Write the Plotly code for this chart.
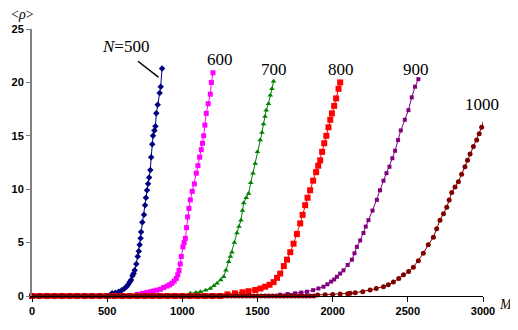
import plotly.graph_objects as go

# N = 500
m500 = [0, 50, 100, 150, 200, 250, 300, 350, 400, 450, 500,
        520, 533, 555, 577, 597, 615, 630, 641, 650, 659, 668, 676, 683, 694, 703, 710,
        716, 722, 726, 734, 745, 752, 758, 765, 772, 779, 787, 793, 800, 805, 814, 821,
        827, 836, 849, 856, 865]
r500 = [0, 0, 0, 0, 0, 0, 0, 0, 0, 0, 0,
        0.1, 0.25, 0.3, 0.4, 0.55, 0.7, 0.9, 1.1, 1.3, 1.5, 1.9, 2.1, 2.4, 3.0, 3.7, 4.2,
        4.8, 5.4, 6.0, 6.9, 7.6, 8.5, 9.2, 9.9, 10.5, 11.1, 11.8, 13.0, 14.2, 15.0, 15.5, 15.9,
        17.1, 17.9, 19.0, 19.6, 21.3]

# N = 600
m600 = [0, 50, 100, 150, 200, 250, 300, 350, 400, 450, 500, 550, 600, 650,
        700, 735, 765, 790, 810, 830, 854, 876, 898, 915, 931, 946, 960, 970, 978, 986,
        993, 1004, 1012, 1020, 1028, 1035, 1044, 1053, 1066, 1080, 1093, 1104, 1115, 1126,
        1134, 1142, 1150, 1159, 1172, 1186, 1193, 1204]
r600 = [0, 0, 0, 0, 0, 0, 0, 0, 0, 0, 0, 0, 0, 0,
        0.15, 0.25, 0.34, 0.4, 0.47, 0.55, 0.63, 0.8, 0.93, 1.05, 1.2, 1.4, 1.65, 2.0, 2.4, 3.0,
        3.7, 4.6, 5.0, 5.4, 6.4, 7.4, 8.2, 9.0, 9.8, 10.5, 11.5, 12.2, 13.0, 13.7,
        14.3, 15.0, 16.0, 17.1, 18.0, 18.9, 20.0, 20.9]

# N = 700
m700 = [0, 50, 100, 150, 200, 250, 300, 350, 400, 450, 500, 550, 600, 650, 700, 750, 800,
        850, 900, 950, 1000,
        1053, 1090, 1120, 1155, 1186, 1210, 1231, 1255, 1275, 1290, 1308, 1320, 1330, 1346,
        1363, 1377, 1390, 1400, 1408, 1425, 1441, 1455, 1470, 1485, 1500, 1518, 1530, 1540,
        1550, 1558, 1573, 1585, 1596, 1607]
r700 = [0, 0, 0, 0, 0, 0, 0, 0, 0, 0, 0, 0, 0, 0, 0, 0, 0,
        0, 0, 0, 0,
        0.25, 0.33, 0.4, 0.55, 0.7, 0.95, 1.2, 1.5, 1.8, 2.4, 3.2, 3.7, 4.1, 5.0,
        5.9, 6.5, 7.1, 8.0, 8.7, 9.2, 9.6, 10.6, 11.5, 12.4, 13.5, 14.6, 15.3, 16.1,
        16.8, 17.4, 18.0, 18.8, 19.4, 20.1]

# N = 800
m800 = [0, 50, 100, 150, 200, 250, 300, 350, 400, 450, 500, 550, 600, 650, 700, 750, 800,
        850, 900, 950, 1000, 1050, 1100, 1150, 1200, 1250,
        1300, 1350, 1400, 1440, 1485, 1520, 1551, 1580, 1607, 1630, 1651, 1675, 1696, 1718,
        1740, 1762, 1784, 1800, 1817, 1833, 1850, 1870, 1890, 1904, 1917, 1930, 1944, 1958,
        1972, 1984, 1995, 2010, 2023, 2039, 2050]
r800 = [0, 0, 0, 0, 0, 0, 0, 0, 0, 0, 0, 0, 0, 0, 0, 0, 0,
        0, 0, 0, 0, 0, 0, 0, 0, 0,
        0.15, 0.25, 0.35, 0.45, 0.56, 0.7, 0.87, 1.05, 1.3, 1.7, 2.1, 2.8, 3.4, 4.1,
        4.9, 5.8, 6.8, 7.6, 8.5, 9.2, 9.9, 10.8, 11.6, 12.2, 12.7, 13.5, 14.3, 15.0,
        15.8, 16.5, 17.1, 17.8, 18.5, 19.4, 20.0]

# N = 900
m900 = [0, 50, 100, 150, 200, 250, 300, 350, 400, 450, 500, 550, 600, 650, 700, 750, 800,
        850, 900, 950, 1000, 1050, 1100, 1150, 1200, 1250, 1300, 1350, 1400, 1450, 1500,
        1550, 1600,
        1650, 1700, 1750, 1790, 1829, 1870, 1905, 1939, 1965, 1990, 2010, 2028, 2050, 2072,
        2100, 2128, 2145, 2161, 2183, 2205, 2220, 2238, 2265, 2294, 2315, 2338, 2358, 2378,
        2397, 2415, 2435, 2453, 2480, 2504, 2526, 2548, 2570]
r900 = [0, 0, 0, 0, 0, 0, 0, 0, 0, 0, 0, 0, 0, 0, 0, 0, 0,
        0, 0, 0, 0, 0, 0, 0, 0, 0, 0, 0, 0, 0, 0,
        0, 0,
        0.12, 0.18, 0.25, 0.32, 0.4, 0.55, 0.7, 0.87, 1.1, 1.35, 1.55, 1.8, 2.1, 2.4,
        2.9, 3.4, 4.0, 4.6, 5.2, 5.9, 6.5, 7.1, 8.0, 9.0, 9.9, 10.8, 11.5, 12.1,
        12.9, 13.6, 14.6, 15.5, 16.5, 17.4, 18.6, 19.6, 20.3]

# N = 1000
m1000 = [0, 25, 50, 75, 100, 125, 150, 175, 200, 225, 250, 275, 300, 325, 350, 375, 400,
         425, 450, 475, 500, 525, 550, 575, 600, 625, 650, 675, 700, 725, 750, 775, 800,
         825, 850, 875, 900, 925, 950, 975, 1000, 1025, 1050, 1075, 1100, 1125, 1150, 1175,
         1200, 1225, 1250, 1275, 1300, 1325, 1350, 1375, 1400, 1425, 1450, 1475, 1500, 1525,
         1550, 1575, 1600, 1625, 1650, 1675, 1700, 1725, 1750, 1775, 1800, 1825, 1850, 1875,
         1900, 1950, 2000, 2050, 2100, 2116, 2150, 2200, 2249, 2290, 2338, 2370, 2404, 2440,
         2471, 2505, 2537, 2570, 2603, 2636, 2670, 2692, 2714, 2737, 2759, 2775, 2792, 2814,
         2836, 2858, 2880, 2897, 2914, 2936, 2958, 2975, 2991, 3013]
r1000 = [0, 0, 0, 0, 0, 0, 0, 0, 0, 0, 0, 0, 0, 0, 0, 0, 0,
         0, 0, 0, 0, 0, 0, 0, 0, 0, 0, 0, 0, 0, 0, 0, 0,
         0, 0, 0, 0, 0, 0, 0, 0, 0, 0, 0, 0, 0, 0, 0,
         0, 0, 0, 0, 0, 0, 0, 0, 0, 0, 0, 0, 0, 0,
         0, 0, 0, 0, 0, 0, 0, 0, 0, 0, 0, 0, 0, 0,
         0.1, 0.12, 0.15, 0.18, 0.22, 0.25, 0.3, 0.4, 0.56, 0.7, 0.87, 1.05, 1.3, 1.65,
         2.0, 2.3, 2.7, 3.3, 4.0, 4.8, 5.5, 6.3, 7.1, 7.7, 8.3, 9.0, 9.7, 10.2,
         10.7, 11.4, 12.1, 12.7, 13.3, 14.0, 14.6, 15.2, 15.8, 16.9]

series_labels = ["<i>N</i>=500", "600", "700", "800", "900", "1000"]
label_m = [620, 1253, 1611, 2054, 2553, 2990]
label_r = [23.4, 22.1, 21.2, 21.2, 21.2, 17.9]
x_ticks = [0, 500, 1000, 1500, 2000, 2500, 3000]
y_ticks = [0, 5, 10, 15, 20, 25]

styles = [
    ("#000080", "diamond", 5),
    ("#FF00FF", "square", 5),
    ("#008000", "triangle-up", 5),
    ("#FF0000", "square", 6),
    ("#800080", "square", 4),
    ("#800000", "circle", 5),
]
data = [(m500, r500), (m600, r600), (m700, r700), (m800, r800), (m900, r900), (m1000, r1000)]

fig = go.Figure()
for (mx, ry), (col, sym, sz) in zip(data, styles):
    fig.add_trace(go.Scatter(
        x=mx, y=ry, mode="lines+markers",
        line=dict(color=col, width=1),
        marker=dict(color=col, symbol=sym, size=sz, line=dict(width=0)),
        cliponaxis=False, showlegend=False,
    ))

serif = "Liberation Serif, Times New Roman, serif"
for txt, lx, ly in zip(series_labels, label_m, label_r):
    fig.add_annotation(x=lx, y=ly, xref="x", yref="y", text=txt, showarrow=False,
                       xanchor="center", yanchor="middle",
                       font=dict(family=serif, size=17, color="black"))

# leader line for N=500 label
fig.add_annotation(x=841, y=20.5, xref="x", yref="y", text="", showarrow=True,
                   arrowhead=0, arrowwidth=1.5, arrowcolor="black", ax=-22, ay=-17)

fig.add_annotation(x=-0.02, y=1.056, xref="paper", yref="paper", text="&lt;<i>ρ</i>&gt;",
                   showarrow=False, xanchor="center", yanchor="middle",
                   font=dict(family=serif, size=14, color="black"))
fig.add_annotation(x=1.05, y=-0.03, xref="paper", yref="paper", text="<i>M</i>",
                   showarrow=False, xanchor="center", yanchor="middle",
                   font=dict(family=serif, size=14, color="black"))

tickfont = dict(family="Arial, Liberation Sans, sans-serif", size=11, color="black", weight="bold")
fig.update_layout(
    width=510, height=322,
    margin=dict(l=23.5, r=35, t=21, b=34, autoexpand=False),
    paper_bgcolor="white", plot_bgcolor="white",
    xaxis=dict(range=[0, 3000], tickvals=x_ticks, showgrid=False, zeroline=False,
               showline=True, linecolor="black", linewidth=1, ticks="outside",
               ticklen=5, tickcolor="black", tickfont=tickfont, automargin=False),
    yaxis=dict(range=[0, 25], tickvals=y_ticks, showgrid=False, zeroline=False,
               showline=True, linecolor="#808080", linewidth=2, ticks="outside",
               ticklen=4, tickcolor="#808080", tickfont=tickfont, automargin=False),
)

fig.write_html("out.html")
